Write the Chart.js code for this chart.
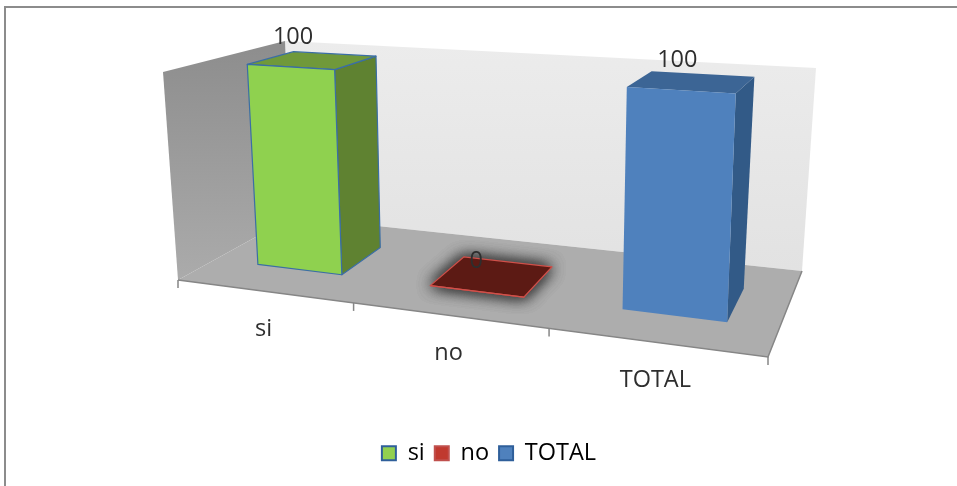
<!DOCTYPE html>
<html>
<head>
<meta charset="utf-8">
<style>
  html, body { margin: 0; padding: 0; background: #fff; overflow: hidden; }
  #frame { position: absolute; left: 4px; top: 6px; width: 953px; height: 480px; border-left: 2px solid #8c8c8c; border-top: 2px solid #8c8c8c; box-sizing: border-box; }
  #wrap { position: absolute; left: 0; top: 0; width: 957px; height: 486px; }
</style>
<script src="https://cdn.jsdelivr.net/npm/chart.js@4"></script>
</head>
<body>
<div id="frame"></div>
<div id="wrap"><canvas id="myChart" width="957" height="486"></canvas></div>
<script>
const categories = ["si", "no", "TOTAL"];
const values = [100, 0, 100];
const valueMax = 100;

// colours per category
const frontColors = ["#8fd14f", "#8f2a22", "#4f81bd"];
const sideColors = ["#5f8231", "#5c1a14", "#325a87"];
const topColors = ["#70993a", "#5c1a14", "#3c6595"];
const edgeColors = ["#3b6ea5", "#d0504a", null];
const legendFill = ["#92d050", "#c0392f", "#4f81bd"];
const legendEdge = ["#2f5f9a", "#c0504d", "#2f5f9a"];

// the box of the 3D plot on the page: front/back, left/right, bottom/top
const box = {
  flb: [178, 280], frb: [768, 357], blb: [292, 217], brb: [802, 271],
  flt: [163, 72], frt: [777, 111], blt: [285, 41], brt: [816, 68]
};
const perspective = 1.18;
const barDepth = [0.33, 0.73];
const barNudge = 0.004;
const textFont = "23.5px 'Open Sans'";

function lerp(a, b, t) { return [a[0] + (b[0] - a[0]) * t, a[1] + (b[1] - a[1]) * t]; }

// u across categories, v up the value axis, d into the depth, all 0..1
function project(u, v, d) {
  const w = u / (u + perspective * (1 - u));
  const bottom = lerp(lerp(box.flb, box.frb, w), lerp(box.blb, box.brb, w), d);
  const top = lerp(lerp(box.flt, box.frt, w), lerp(box.blt, box.brt, w), d);
  return lerp(bottom, top, v);
}

function poly(ctx, pts, fill, stroke) {
  ctx.beginPath();
  pts.forEach((p, i) => i ? ctx.lineTo(p[0], p[1]) : ctx.moveTo(p[0], p[1]));
  ctx.closePath();
  ctx.fillStyle = fill;
  ctx.fill();
  if (stroke) {
    ctx.strokeStyle = stroke;
    ctx.lineWidth = 1.2;
    ctx.lineJoin = "round";
    ctx.stroke();
  }
}

const plot3d = {
  id: "plot3d",
  beforeDatasetsDraw(chart) {
    const ctx = chart.ctx;
    ctx.save();
    // back wall
    let g = ctx.createLinearGradient(0, 42, 0, 270);
    g.addColorStop(0, "#ececec");
    g.addColorStop(1, "#e2e2e2");
    poly(ctx, [box.blb, box.brb, box.brt, box.blt], g);
    // left wall
    g = ctx.createLinearGradient(0, 50, 0, 280);
    g.addColorStop(0, "#8e8e8e");
    g.addColorStop(1, "#ababab");
    poly(ctx, [box.flb, box.blb, box.blt, box.flt], g);
    // floor
    poly(ctx, [box.flb, box.frb, box.brb, box.blb], "#adadad");
    // front and right edges of the floor
    ctx.strokeStyle = "#868686";
    ctx.lineWidth = 1.5;
    ctx.beginPath();
    ctx.moveTo(box.flb[0], box.flb[1]);
    ctx.lineTo(box.frb[0], box.frb[1]);
    ctx.lineTo(box.brb[0], box.brb[1]);
    ctx.stroke();
    // category ticks
    categories.concat("").forEach((c, i) => {
      const p = project(i / categories.length, 0, 0);
      ctx.beginPath();
      ctx.moveTo(p[0], p[1]);
      ctx.lineTo(p[0], p[1] + 8);
      ctx.stroke();
    });
    // category labels
    ctx.fillStyle = "#2e2e2e";
    ctx.font = textFont;
    ctx.textAlign = "center";
    ctx.textBaseline = "middle";
    categories.forEach((c, i) => {
      const p = project((i + 0.5) / categories.length, 0, 0);
      ctx.fillText(c, p[0], p[1] + 38);
    });
    ctx.restore();
  },
  // the bars are laid out by the library, here they only get their 3D shape
  beforeDatasetDraw(chart, args) {
    const ctx = chart.ctx;
    const area = chart.chartArea;
    const meta = args.meta;
    const toU = px => (px - area.left) / area.width + barNudge;
    const toV = py => (area.bottom - py) / area.height;
    ctx.save();
    meta.data.forEach((bar, i) => {
      const u0 = toU(bar.x - bar.width / 2);
      const u1 = toU(bar.x + bar.width / 2);
      const v0 = toV(bar.base);
      const v1 = toV(bar.y);
      const d0 = barDepth[0];
      const d1 = barDepth[1];
      const edge = edgeColors[i];
      const topFace = [project(u0, v1, d0), project(u1, v1, d0), project(u1, v1, d1), project(u0, v1, d1)];
      if (values[i] === 0) {
        // dark glow round the flat bar
        ctx.save();
        ctx.shadowColor = "#444";
        ctx.shadowBlur = 15;
        for (let n = 0; n < 3; n++) poly(ctx, topFace, topColors[i]);
        ctx.restore();
      }
      poly(ctx, [project(u1, v0, d0), project(u1, v0, d1), project(u1, v1, d1), project(u1, v1, d0)], sideColors[i], edge);
      poly(ctx, topFace, topColors[i], edge);
      poly(ctx, [project(u0, v0, d0), project(u1, v0, d0), project(u1, v1, d0), project(u0, v1, d0)], frontColors[i], edge);
    });
    ctx.restore();
    return false;
  },
  afterDatasetsDraw(chart) {
    const ctx = chart.ctx;
    const area = chart.chartArea;
    ctx.save();
    ctx.fillStyle = "#2e2e2e";
    ctx.font = textFont;
    ctx.textAlign = "center";
    ctx.textBaseline = "middle";
    chart.getDatasetMeta(0).data.forEach((bar, i) => {
      const p = project((bar.x - area.left) / area.width + barNudge, (area.bottom - bar.y) / area.height, barDepth[0]);
      // labels sit a little closer to the middle than the bars
      ctx.fillText(String(values[i]), p[0] + (470 - p[0]) * 0.015, p[1] - 30);
    });
    ctx.restore();
  }
};

const config = {
  type: "bar",
  data: {
    labels: categories,
    datasets: [{ label: "serie", data: values, backgroundColor: frontColors, barPercentage: 0.5, categoryPercentage: 1 }]
  },
  options: {
    responsive: false,
    animation: false,
    layout: { padding: { left: 21, top: 10, right: 0, bottom: 11 } },
    scales: {
      x: { display: false },
      y: { display: false, min: 0, max: valueMax }
    },
    plugins: {
      tooltip: { enabled: false },
      legend: {
        position: "bottom",
        onClick: null,
        labels: {
          color: "#2e2e2e",
          boxWidth: 14,
          boxHeight: 14,
          padding: 10,
          font: { family: "'Open Sans'", size: 23.5 },
          generateLabels: () => categories.map((c, i) => ({
            text: c,
            fillStyle: legendFill[i],
            strokeStyle: legendEdge[i],
            lineWidth: 2,
            index: i
          }))
        }
      }
    }
  },
  plugins: [plot3d]
};

var myChart = new Chart(document.getElementById("myChart"), config);
</script>
</body>
</html>
